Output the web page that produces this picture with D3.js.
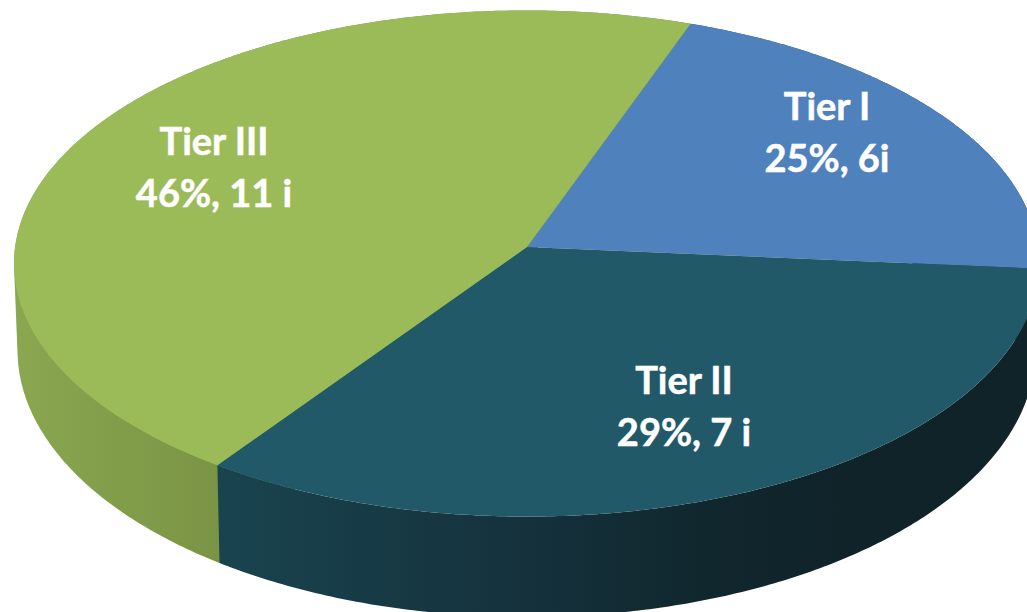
<!DOCTYPE html>
<html>
<head>
<meta charset="utf-8">
<script src="https://cdn.jsdelivr.net/npm/d3@7"></script>
<style>
  html, body { margin: 0; padding: 0; background: #fff; overflow: hidden; }
  svg { display: block; }
  text { font-family: Lato, "Open Sans", sans-serif; font-weight: 700; fill: #fff; stroke: #fff; stroke-width: 0.5px; }
</style>
</head>
<body>
<svg id="chart"></svg>
<script>
const tiers = ["Tier I", "Tier II", "Tier III"];
const percents = [25, 29, 46];
const counts = ["6i", "7 i", "11 i"];
// wedge sizes as measured on the picture (75, 120 and 165 degrees), they differ from the printed labels
const wedgeShares = [5, 8, 11];

const width = 1027, height = 612;
const startAngle = 19.9 * Math.PI / 180;
const tilt = -0.0652; // fake perspective, the far edge is squeezed a bit
const apex = [527, 247];

const topColors = ["#4f81bd", "#215968", "#9bbb59"];
const wallStops = [
  { x: [800, 1027], c: ["#2f4d72", "#2f4d72"] },
  { x: [217, 500, 700, 850], c: ["#19444f", "#15333e", "#11272e", "#0f2329"] },
  { x: [13, 219], c: ["#8ba750", "#7a9445"] }
];
const labelAnchors = [[827, 120], [684, 394], [214, 155]];
const lineGap = 52;

const svg = d3.select("#chart").attr("width", width).attr("height", height);
const defs = svg.append("defs");

const pie = d3.pie().sort(null).startAngle(startAngle).endAngle(startAngle + 2 * Math.PI);
const slices = pie(wedgeShares);

// rim of the top face and rim of the bottom face
const topRim = rim(526.5, apex[1], 511.4, 252);
const bottomRim = rim(526.5, 332.6, 507.9, 265.9);

function rim(cx, cy, rx, ry) {
  return function(a) {
    let u = Math.sin(a), v = -Math.cos(a), w = 1 + tilt * v;
    return [cx + rx * u / w, cy + ry * v / w];
  };
}

function steps(d) {
  let n = Math.ceil((d.endAngle - d.startAngle) / 0.01);
  return d3.range(n + 1).map(i => d.startAngle + (d.endAngle - d.startAngle) * i / n);
}

const line = d3.line();

// gradient for each side wall, runs along x
wallStops.forEach(function(w, i) {
  let x0 = w.x[0], x1 = w.x[w.x.length - 1];
  let offset = d3.scaleLinear().domain([x0, x1]).range([0, 1]);
  defs.append("linearGradient")
    .attr("id", "wall" + i)
    .attr("gradientUnits", "userSpaceOnUse")
    .attr("x1", x0).attr("x2", x1)
    .attr("y1", 0).attr("y2", 0)
    .selectAll("stop")
    .data(w.x)
    .enter()
    .append("stop")
    .attr("offset", d => offset(d))
    .attr("stop-color", (d, k) => w.c[k]);
});

// side walls, green before dark so the dark one cuts the hull of the green one
[0, 2, 1].forEach(function(i) {
  let angles = steps(slices[i]);
  let outline = d3.polygonHull(angles.map(topRim).concat(angles.map(bottomRim)));
  if (i == 1) outline = angles.map(topRim).concat(angles.map(bottomRim).reverse());
  svg.append("path")
    .attr("d", line(outline) + "Z")
    .attr("fill", `url(#wall${i})`);
});

// top face
svg.append("g")
  .selectAll("path")
  .data(slices)
  .enter()
  .append("path")
  .attr("d", d => line([apex].concat(steps(d).map(topRim))) + "Z")
  .attr("fill", (d, i) => topColors[i]);

// labels
const labels = svg.append("g")
  .selectAll("g")
  .data(tiers)
  .enter()
  .append("g")
  .attr("transform", (d, i) => `translate(${labelAnchors[i][0]},${labelAnchors[i][1]})`);

labels.append("text")
  .attr("text-anchor", "middle")
  .attr("font-size", 38)
  .text(d => d);

labels.append("text")
  .attr("text-anchor", "middle")
  .attr("y", lineGap)
  .attr("font-size", 38)
  .text((d, i) => `${percents[i]}%, ${counts[i]}`);
</script>
</body>
</html>
